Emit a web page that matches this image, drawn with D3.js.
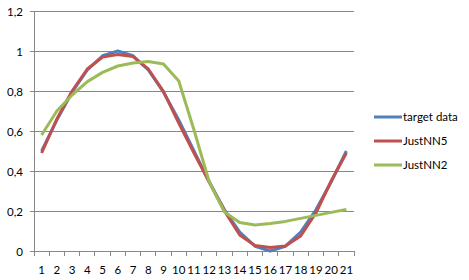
<!DOCTYPE html>
<html><head><meta charset="utf-8">
<script src="https://cdn.jsdelivr.net/npm/d3@7"></script>
<style>body{margin:0;background:#fff}svg{display:block}text{font-family:Lato,"Open Sans",sans-serif;font-size:11.5px;fill:#000}</style>
</head><body><svg id="c" width="469" height="280"></svg>
<script>
const categories = ["1","2","3","4","5","6","7","8","9","10","11","12","13","14","15","16","17","18","19","20","21"];
const targetData = [0.5,0.655,0.794,0.905,0.976,1.0,0.976,0.905,0.794,0.655,0.5,0.345,0.206,0.095,0.024,0.0,0.024,0.095,0.206,0.345,0.5];
const justNN5 = [0.49,0.66,0.80,0.91,0.97,0.983,0.972,0.91,0.797,0.64,0.49,0.345,0.2,0.08,0.027,0.018,0.025,0.075,0.19,0.35,0.49];
const justNN2 = [0.58,0.70,0.78,0.847,0.893,0.925,0.94,0.948,0.935,0.85,0.605,0.345,0.195,0.143,0.13,0.138,0.148,0.163,0.178,0.193,0.207];
const yTicks = [0,0.2,0.4,0.6,0.8,1,1.2];
const seriesNames = ["target data","JustNN5","JustNN2"];
const colors = ["#4F81BD","#C0504D","#9BBB59"];
const series = [targetData, justNN5, justNN2];

const svg = d3.select("#c");
const L=34,R=354,T=11,B=251;
const x = d3.scaleBand().domain(categories).range([L,R]);
const y = d3.scaleLinear().domain([0,1.2]).range([B,T]);
const fmt = v => String(v).replace(".",",");

// gridlines
svg.append("g").selectAll("line").data(yTicks.filter(v=>v>0)).join("line")
  .attr("x1",L).attr("x2",R).attr("y1",d=>y(d)).attr("y2",d=>y(d))
  .attr("stroke","#878787").attr("stroke-width",1).attr("shape-rendering","crispEdges");

// y axis
const ya = svg.append("g").attr("transform",`translate(${L},0)`)
  .call(d3.axisLeft(y).tickValues(yTicks).tickFormat(fmt).tickSize(4).tickPadding(7));
ya.select(".domain").attr("stroke","#878787").attr("shape-rendering","crispEdges");
ya.selectAll(".tick line").attr("stroke","#878787").attr("shape-rendering","crispEdges");
ya.selectAll("text").attr("font-size","11.5px").attr("font-family","Lato").attr("dy","0.4em");

// x axis
const xa = svg.append("g").attr("transform",`translate(0,${B})`)
  .call(d3.axisBottom(x).tickSize(0).tickPadding(15));
xa.select(".domain").attr("stroke","#878787").attr("shape-rendering","crispEdges");
xa.selectAll("text").attr("font-size","11.5px").attr("font-family","Lato");
const bounds = categories.map(c=>x(c)).concat([R]);
svg.append("g").selectAll("line").data(bounds).join("line")
  .attr("x1",d=>d).attr("x2",d=>d).attr("y1",B).attr("y2",B+5)
  .attr("stroke","#878787").attr("shape-rendering","crispEdges");

// lines
const line = d3.line().x((d,i)=>x(categories[i])+x.bandwidth()/2).y(d=>y(d));
series.forEach((s,k)=>{
  svg.append("path").datum(s).attr("d",line).attr("fill","none")
    .attr("stroke",colors[k]).attr("stroke-width",3).attr("stroke-linejoin","round");
});

// legend
const lg = svg.append("g");
seriesNames.forEach((n,k)=>{
  const yy = 117 + k*24;
  lg.append("line").attr("x1",374).attr("x2",402).attr("y1",yy).attr("y2",yy)
    .attr("stroke",colors[k]).attr("stroke-width",3);
  lg.append("text").attr("x",403).attr("y",yy+4).text(n);
});
</script></body></html>
